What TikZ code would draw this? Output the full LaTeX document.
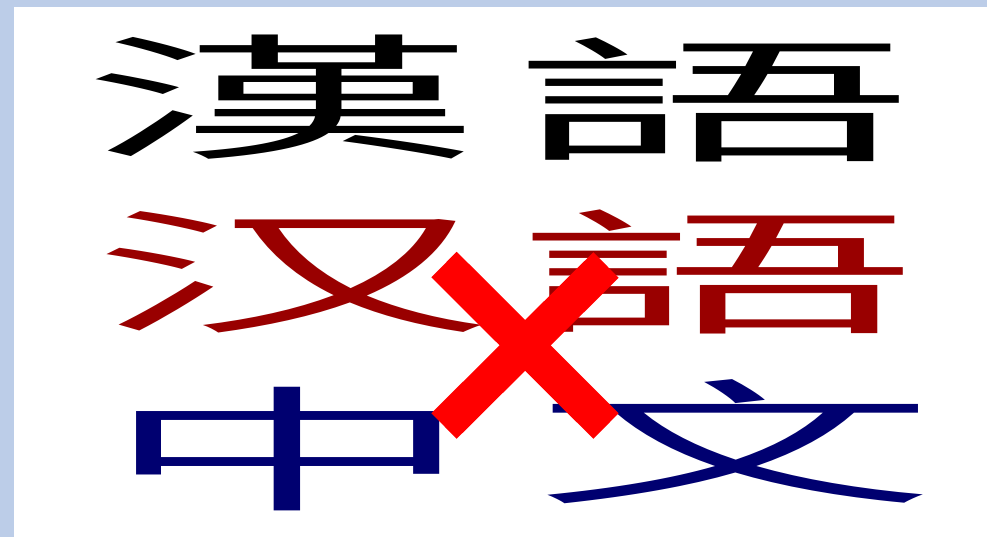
\documentclass[tikz,border=0pt]{standalone}
\usepackage{fontspec}
\newfontfamily\cjkfont{Noto Sans CJK TC DemiLight}
\definecolor{framebg}{HTML}{BCCDE8}
\definecolor{rowred}{HTML}{990000}
\definecolor{rowblue}{HTML}{000070}
\definecolor{crossred}{HTML}{FF0000}
\tikzset{
  glyph/.style={inner sep=0pt, outer sep=0pt, anchor=center,
    font=\cjkfont\fontsize{135}{135}\selectfont},
  crossarm/.style={draw=crossred, line width=36pt, line cap=butt}
}
\newcommand{\widechar}[2][3.0]{\scalebox{#1}[1]{#2}}
\begin{document}
\begin{tikzpicture}[x=1pt,y=-1pt]
  \useasboundingbox (0,0) rectangle (987,537);
  \fill[framebg] (0,0) rectangle (987,537);
  \fill[white] (14,7) rectangle (987,537);
  % row 1
  \node[glyph, text=black] (h1) at (282,97) {\widechar{漢}};
  \node[glyph, text=black] (y1) at (713,100) {\widechar{語}};
  % row 2
  \node[glyph, text=rowred] (h2) at (292,272) {\widechar{汉}};
  \node[glyph, text=rowred] (y2) at (717,272) {\widechar{語}};
  % row 3
  \node[glyph, text=rowblue] (z3) at (288,449) {\widechar[2.8]{中}};
  \node[glyph, text=rowblue] (w3) at (735,442) {\widechar{文}};
  % cross
  \coordinate (xa) at (444,264.5);
  \coordinate (xb) at (606,426);
  \coordinate (xc) at (606,265);
  \coordinate (xd) at (444,426);
  \draw[crossarm] (xa) -- (xb);
  \draw[crossarm] (xc) -- (xd);
\end{tikzpicture}
\end{document}
